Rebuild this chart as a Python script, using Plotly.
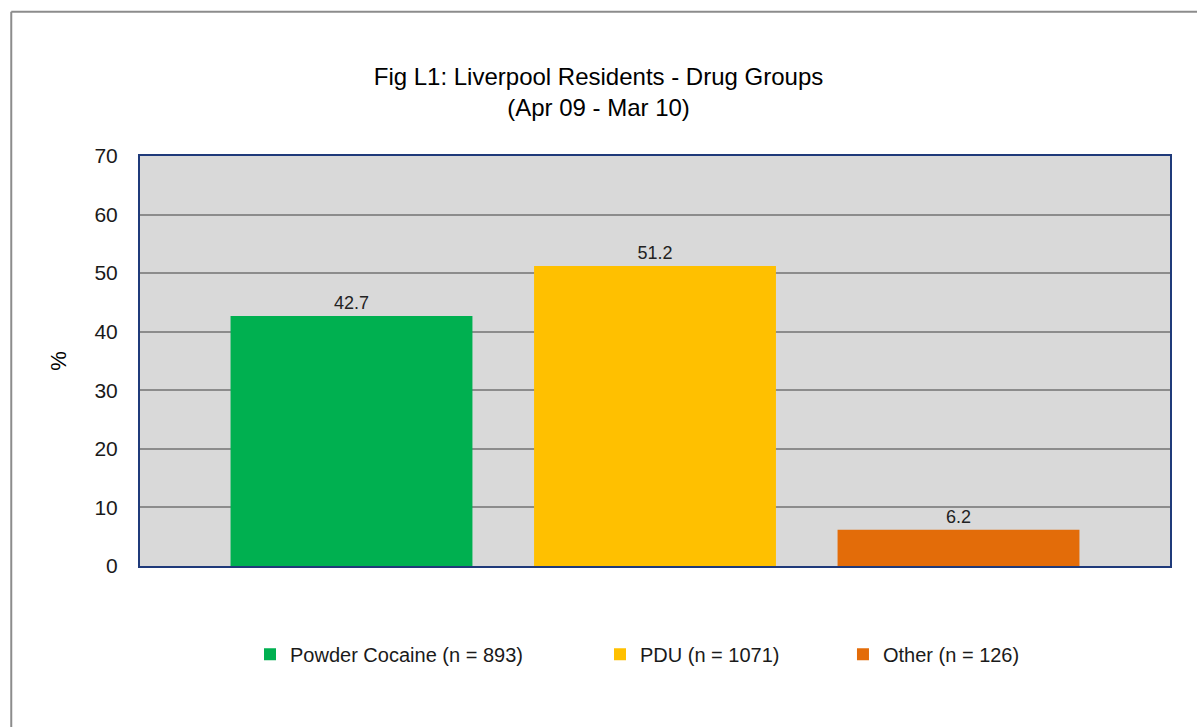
import plotly.graph_objects as go

# Drug group shares for Liverpool residents, Apr 09 - Mar 10
groups = ["Powder Cocaine (n = 893)", "PDU (n = 1071)", "Other (n = 126)"]
percent = [42.7, 51.2, 6.2]
colors = ["#00b050", "#ffc000", "#e36c09"]
category = [""]
y_ticks = [0, 10, 20, 30, 40, 50, 60, 70]

# each legend entry gets its own legend box so the entries can be spaced freely
legend_ids = ["legend", "legend2", "legend3"]
legend_x = [0.1068, 0.4466, 0.6825]

fig = go.Figure()
for name, val, col, lid in zip(groups, percent, colors, legend_ids):
    fig.add_trace(go.Bar(
        x=category, y=[val], name=name, legend=lid,
        marker=dict(color=col, line=dict(width=0)),
        text=[f"{val:.1f}"], textposition="outside",
        textfont=dict(size=18, color="#222222"),
        cliponaxis=False,
    ))

font_family = "Liberation Sans, Arial, sans-serif"

legend_style = dict(
    orientation="h", xanchor="left", y=-0.215, yanchor="middle",
    font=dict(size=20, color="#1a1a1a"), itemwidth=30,
    bgcolor="rgba(0,0,0,0)",
)

fig.update_layout(
    width=1197, height=727,
    margin=dict(l=140, r=27, t=156, b=161),
    paper_bgcolor="white",
    plot_bgcolor="#d9d9d9",
    barmode="group",
    bargap=0.116,
    bargroupgap=0.203,
    font=dict(family=font_family, color="#1a1a1a"),
    title=dict(
        text="Fig L1: Liverpool Residents - Drug Groups<br>(Apr 09 - Mar 10)",
        x=0.5, xanchor="center", y=0.883, yanchor="middle",
        font=dict(size=24, color="#000000", family=font_family),
    ),
    showlegend=True,
    legend=dict(x=legend_x[0], **legend_style),
    legend2=dict(x=legend_x[1], **legend_style),
    legend3=dict(x=legend_x[2], **legend_style),
)

fig.update_xaxes(
    showticklabels=False, showgrid=False, zeroline=False,
    showline=True, linecolor="#1f3a7a", linewidth=2, mirror=True,
)
fig.update_yaxes(
    range=[0, 70], tickvals=y_ticks,
    tickfont=dict(size=21, color="#1a1a1a"),
    ticks="", ticklabelstandoff=16,
    showgrid=True, gridcolor="#8c8c8c", gridwidth=1.5,
    zeroline=False,
    showline=True, linecolor="#1f3a7a", linewidth=2, mirror=True,
    title=dict(text="%", font=dict(size=22, color="#000000"), standoff=22),
)

# chart frame (left and top edges visible)
frame = dict(color="#8c8c8c", width=2)
fig.add_shape(type="line", xref="paper", yref="paper",
              x0=-0.125, x1=-0.125, y0=-0.42, y1=1.352, line=frame)
fig.add_shape(type="line", xref="paper", yref="paper",
              x0=-0.125, x1=1.05, y0=1.352, y1=1.352, line=frame)

fig.write_html("out.html")
